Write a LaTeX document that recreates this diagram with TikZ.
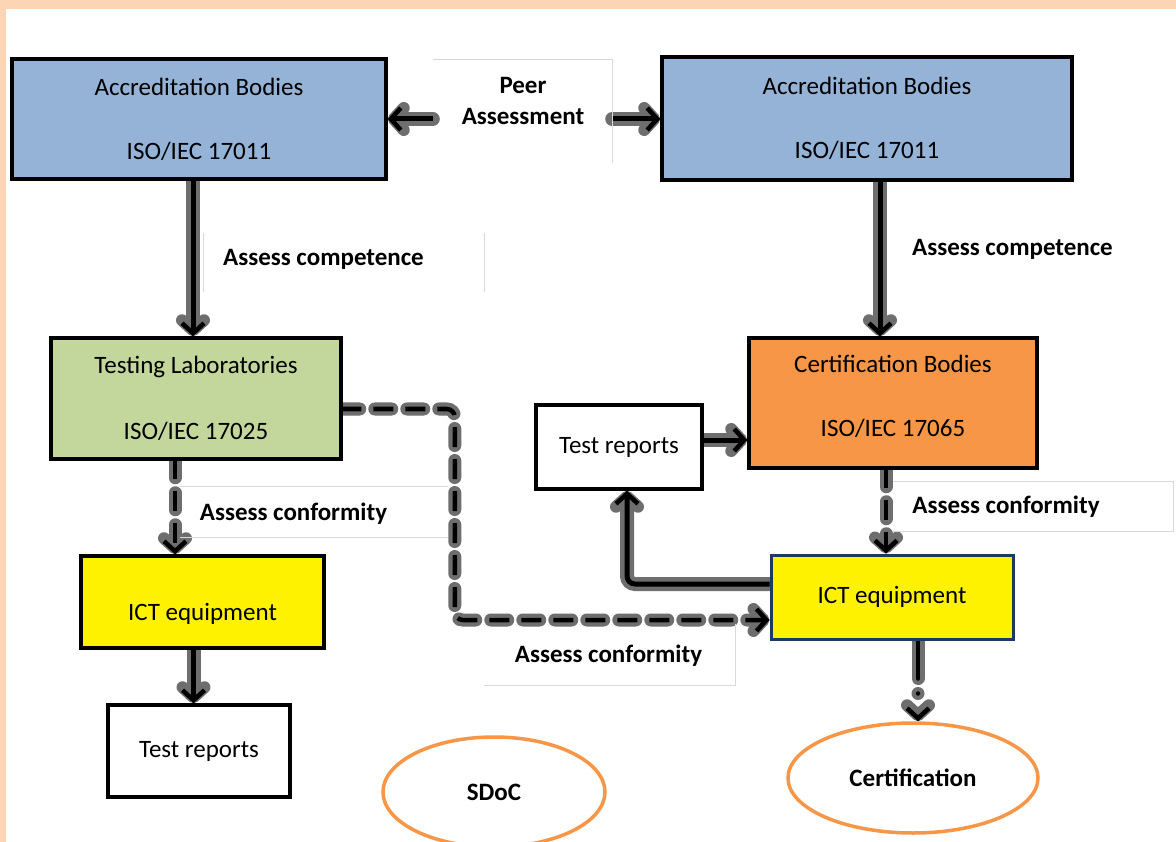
\documentclass[tikz,border=0pt]{standalone}
\usepackage{fontspec}
\setmainfont{Carlito}
\usetikzlibrary{positioning,arrows.meta,shapes.geometric}
\pgfdeclarelayer{bg}
\pgfsetlayers{bg,main}
\definecolor{abblue}{HTML}{95B3D7}
\definecolor{labgreen}{HTML}{C3D69B}
\definecolor{cborange}{HTML}{F79646}
\definecolor{peach}{HTML}{FCD5B5}
\definecolor{ictnavy}{HTML}{1F3864}
\definecolor{framegray}{HTML}{D9D9D9}
\definecolor{glowgray}{HTML}{6E6E6E}

\begin{document}
\begin{tikzpicture}[x=1pt, y=-1pt,
    squarednode/.style={rectangle, draw=black, line width=3.5pt, inner sep=0pt, align=center, font=\fontsize{25}{28}\selectfont},
    ovalnode/.style={ellipse, draw=cborange, fill=white, line width=3.5pt, inner sep=0pt, font=\bfseries\fontsize{25}{28}\selectfont},
    textnode/.style={inner sep=0pt, align=center, font=\bfseries\fontsize{25}{31}\selectfont},
    framenode/.style={inner sep=0pt},
    frameline/.style={draw=framegray, line width=0.8pt},
    fatline/.style={line width=5pt, -{Straight Barb[length=10pt,width=22pt,line width=4.5pt]},
        preaction={draw=glowgray, line width=14pt, line cap=round, -{Straight Barb[length=10pt,width=22pt,line width=12pt,round]}}},
    dashline/.style={line width=4.5pt, dash pattern=on 20pt off 12pt, dash phase=1.5pt, -{Straight Barb[length=10pt,width=22pt,line width=4.5pt]},
        preaction={draw=glowgray, line width=13pt, line cap=round, dash pattern=on 17pt off 15pt, dash phase=0pt, -{Straight Barb[length=10pt,width=22pt,line width=12pt,round]}}},
    dotline/.style={line width=4.5pt, line cap=round, dash pattern=on 38pt off 15pt on 0pt off 40pt, -{Straight Barb[length=10pt,width=22pt,line width=4.5pt]},
        preaction={draw=glowgray, line width=13pt, line cap=round, dash pattern=on 38pt off 15pt on 0pt off 40pt, -{Straight Barb[length=10pt,width=22pt,line width=12pt,round]}}},
]
\useasboundingbox (0,0) rectangle (1176,842);
\begin{pgfonlayer}{bg}
\fill[peach] (0,0) rectangle (1176,842);
\fill[white] (6,9) rectangle (1176,842);
\end{pgfonlayer}

%Nodes
\node[squarednode, fill=abblue, minimum width=374pt, minimum height=120pt] (accredA) at (199,119) {Accreditation Bodies\\[36pt]ISO/IEC 17011};
\node[squarednode, fill=abblue, minimum width=410pt, minimum height=123pt] (accredB) at (867,118.5) {Accreditation Bodies\\[36pt]ISO/IEC 17011};
\node[squarednode, fill=labgreen, minimum width=290pt, minimum height=121pt] (testlab) at (196,398.5) {Testing Laboratories\\[38pt]ISO/IEC 17025};
\node[squarednode, fill=cborange, minimum width=288pt, minimum height=130pt, text height=82pt, text depth=15pt] (certbody) at (893,403) {Certification Bodies\\[36pt]ISO/IEC 17065};
\node[squarednode, fill=white, minimum width=166pt, minimum height=84pt] (reportB) at (619,447) {Test reports};
\node[squarednode, fill=yellow, draw=ictnavy, line width=3pt, minimum width=242pt, minimum height=84pt] (ictB) at (892,597) {ICT equipment};
\node[squarednode, fill=yellow, minimum width=243pt, minimum height=92pt, text height=37pt, text depth=0pt] (ictA) at (202.5,602) {ICT equipment};
\node[squarednode, fill=white, minimum width=182pt, minimum height=92pt] (reportA) at (199,751) {Test reports};
\node[ovalnode, minimum width=250pt, minimum height=110pt] (cert) at (913,778) {Certification};
\node[ovalnode, minimum width=222pt, minimum height=110pt] (sdoc) at (494,792) {SDoC};

%Labels
\node[framenode, minimum width=179pt, minimum height=103pt] (peerframe) at (522.5,111.5) {};
\node[textnode] (peer) at (523,101) {Peer\\Assessment};
\node[framenode, minimum width=280pt, minimum height=59pt] (compAframe) at (344,262.5) {};
\node[textnode] (compA) at (323.5,259) {Assess competence};
\node[textnode] (compB) at (1012.5,249) {Assess competence};
\node[framenode, minimum width=268pt, minimum height=50pt] (confAframe) at (314,512) {};
\node[textnode] (confA) at (293.5,514) {Assess conformity};
\node[framenode, minimum width=280pt, minimum height=49pt] (confBframe) at (1033,506.5) {};
\node[textnode] (confB) at (1006,507) {Assess conformity};
\node[framenode, minimum width=251pt, minimum height=61pt] (confCframe) at (609.5,654.5) {};
\node[textnode] (confC) at (608.5,656) {Assess conformity};

\draw[frameline] (peerframe.north west) -- (peerframe.north east) -- (peerframe.south east);
\draw[frameline] (compAframe.north west) -- (compAframe.south west);
\draw[frameline] (compAframe.north east) -- (compAframe.south east);
\draw[frameline] (confAframe.north west) -- (confAframe.north east);
\draw[frameline] (confAframe.south west) -- (confAframe.south east);
\draw[frameline] (confBframe.north west) -- (confBframe.north east) -- (confBframe.south east) -- (confBframe.south west);
\draw[frameline] (confCframe.north east) -- (confCframe.south east) -- (confCframe.south west);

%Lines
\begin{pgfonlayer}{bg}    % arrows go under the boxes
\draw[fatline] (peerframe.west |- accredA.east) -- (accredA.east);
\draw[fatline] (peerframe.east |- accredA.east) -- (accredB.west |- accredA.east);
\draw[fatline] ([xshift=-6pt]accredA.south) -- ([xshift=-6pt]accredA.south |- testlab.north);
\draw[fatline] ([xshift=13pt]accredB.south) -- ([xshift=13pt]accredB.south |- certbody.north);
\draw[dashline] ([xshift=-21pt]testlab.south) -- ([xshift=-21pt]testlab.south |- ictA.north);
\draw[fatline] ([xshift=-9pt]ictA.south) -- ([xshift=-9pt]ictA.south |- reportA.north);
\draw[dashline, rounded corners=8pt] ([yshift=-10.5pt]testlab.east) -- ++(112,0) |- ([yshift=-23pt]ictB.west);
\draw[fatline] ([yshift=7pt]reportB.east) -- ([yshift=7pt]reportB.east -| certbody.west);
\draw[dashline] ([xshift=-7pt]certbody.south) -- ([xshift=-7pt]certbody.south |- ictB.north);
\draw[fatline, rounded corners=8pt] ([yshift=13pt]ictB.west) -| ([xshift=8pt]reportB.south);
\draw[dotline] ([xshift=26pt]ictB.south) -- ([xshift=26pt]ictB.south |- cert.north);
\end{pgfonlayer}
\end{tikzpicture}
\end{document}
